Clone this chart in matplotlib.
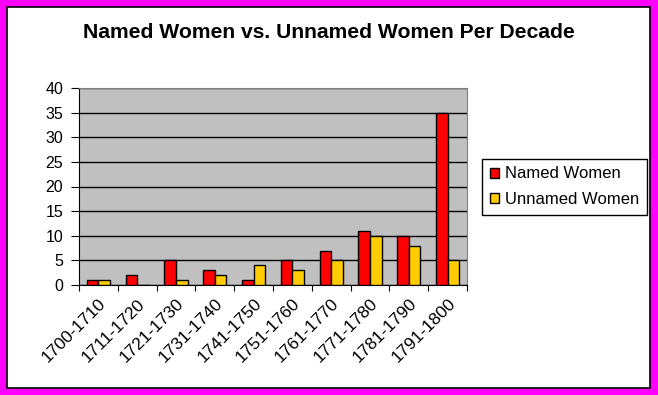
import numpy as np
import matplotlib.pyplot as plt
from matplotlib.patches import Rectangle
from matplotlib.transforms import ScaledTranslation

# Dados do gráfico
decadas = ["1700-1710", "1711-1720", "1721-1730", "1731-1740", "1741-1750",
           "1751-1760", "1761-1770", "1771-1780", "1781-1790", "1791-1800"]
named_women = [1, 2, 5, 3, 1, 5, 7, 11, 10, 35]
unnamed_women = [1, 0, 1, 2, 4, 3, 5, 10, 8, 5]

plt.rcParams.update({"font.family": "Liberation Sans",
                     "font.size": 11})

fig = plt.figure(figsize=(6.58, 3.95), dpi=100)

# Moldura magenta + fundo branco
fig.patches.append(Rectangle((0, 0), 1, 1, transform=fig.transFigure,
                             facecolor="#ff00ff", edgecolor="none", zorder=-3))
fig.patches.append(Rectangle((7 / 658, 7 / 395), 643 / 658, 381 / 395,
                             transform=fig.transFigure, facecolor="white",
                             edgecolor="black", linewidth=1.2, zorder=-2))

ax = fig.add_axes([79 / 658, 1 - 285 / 395, 388 / 658, 197 / 395])
ax.set_facecolor("#c0c0c0")

x = np.arange(len(decadas))
w = 0.3
ax.bar(x - w / 2, named_women, w, color="#ff0000", edgecolor="black",
       linewidth=1, label="Named Women", zorder=3)
ax.bar(x + w / 2, unnamed_women, w, color="#ffcc00", edgecolor="black",
       linewidth=1, label="Unnamed Women", zorder=3)

ax.set_xlim(-0.5, len(decadas) - 0.5)
ax.set_ylim(0, 40)
ax.set_yticks(np.arange(0, 41, 5))
ax.yaxis.grid(True, color="black", linewidth=1, zorder=0)
ax.set_axisbelow(True)

# Ticks do eixo x entre as categorias, rótulos no centro
ax.set_xticks(np.arange(-0.5, len(decadas), 1))
ax.set_xticklabels([])
ax.set_xticks(x, minor=True)
ax.set_xticklabels(decadas, minor=True, rotation=45, ha="right",
                   rotation_mode="anchor", fontsize=12.5)
desloc = ScaledTranslation(-8 / 100, -3 / 100, fig.dpi_scale_trans)
for rotulo in ax.get_xticklabels(minor=True):
    rotulo.set_transform(rotulo.get_transform() + desloc)
ax.tick_params(axis="x", which="minor", length=0, pad=8)
ax.tick_params(axis="x", which="major", direction="out", length=4, color="black")
ax.tick_params(axis="y", direction="out", length=5.8, color="black", pad=5.5,
               labelsize=11.5)

ax.spines["top"].set_color("#808080")
ax.spines["right"].set_color("#808080")
ax.spines["left"].set_color("black")
ax.spines["bottom"].set_color("black")

fig.text(0.5, 1 - 32 / 395, "Named Women vs. Unnamed Women Per Decade",
         ha="center", va="center", fontsize=15.2, fontweight="bold")

fig.legend(loc="upper left", bbox_to_anchor=(482 / 658, 1 - 159 / 395),
           borderaxespad=0, frameon=True, fancybox=False, edgecolor="black",
           framealpha=1, handlelength=0.55, handleheight=0.55,
           handletextpad=0.4, borderpad=0.45, labelspacing=0.65, fontsize=12)

fig.savefig("out.png", dpi=100)
